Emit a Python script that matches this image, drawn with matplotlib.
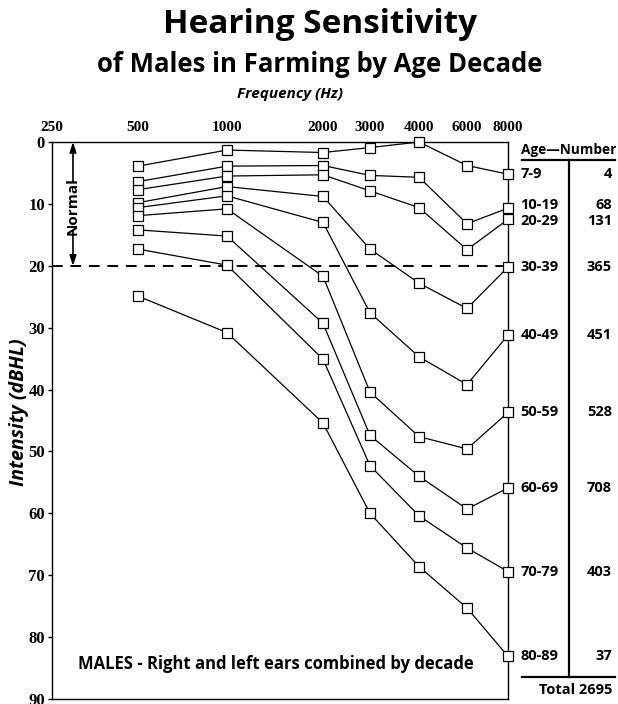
import numpy as np
import matplotlib
matplotlib.use('Agg')
import matplotlib.pyplot as plt
from matplotlib.lines import Line2D
import matplotlib.transforms as mtransforms

# ------------------------------------------------------------
# data (dB HL thresholds)
# ------------------------------------------------------------
freqs = [500, 1000, 2000, 3000, 4000, 6000, 8000]
freq_ticks = [250, 500, 1000, 2000, 3000, 4000, 6000, 8000]

age_groups = ['7-9', '10-19', '20-29', '30-39', '40-49',
              '50-59', '60-69', '70-79', '80-89']
counts = [4, 68, 131, 365, 451, 528, 708, 403, 37]
total_count = 2695

age_7_9 = [3.9, 1.3, 1.7, 0.9, 0.0, 3.8, 5.2]
age_10_19 = [6.4, 3.9, 3.8, 5.4, 5.7, 13.2, 10.7]
age_20_29 = [7.7, 5.5, 5.3, 7.9, 10.6, 17.4, 12.5]
age_30_39 = [9.8, 7.2, 8.8, 17.3, 22.8, 26.9, 20.2]
age_40_49 = [10.6, 8.7, 13.0, 27.6, 34.7, 39.2, 31.2]
age_50_59 = [11.9, 10.8, 21.7, 40.4, 47.6, 49.6, 43.7]
age_60_69 = [14.2, 15.2, 29.3, 47.4, 54.0, 59.3, 55.9]
age_70_79 = [17.3, 19.9, 35.1, 52.3, 60.4, 65.6, 69.4]
age_80_89 = [24.9, 30.8, 45.4, 60.0, 68.6, 75.3, 83.1]
series = [age_7_9, age_10_19, age_20_29, age_30_39, age_40_49,
          age_50_59, age_60_69, age_70_79, age_80_89]

normal_limit = 20

# ------------------------------------------------------------
SANS = 'Open Sans'
SERIF = 'Liberation Serif'
W, H = 618, 704

fig = plt.figure(figsize=(W / 100, H / 100), dpi=100)
ax = fig.add_axes([52 / W, 5 / H, 456 / W, 557 / H])

# audiogram-style frequency spacing (half octaves at 3k / 6k)
tick_slots = [0, 86, 175, 271, 318, 367, 415, 456]


def fwd(f):
    return np.interp(f, freq_ticks, tick_slots)


def inv(s):
    return np.interp(s, tick_slots, freq_ticks)


ax.set_xscale('function', functions=(fwd, inv))
ax.set_xlim(250, 8000)
ax.set_ylim(90, 0)

for vals in series:
    ax.plot(freqs, vals, color='black', lw=0.9, marker='s', ms=7.5,
            mfc='white', mec='black', mew=0.9, zorder=3, clip_on=False)

ax.axhline(normal_limit, color='black', lw=1.4, dashes=(5.5, 4), zorder=2)

# x ticks on top
ax.xaxis.tick_top()
ax.set_xticks(freq_ticks)
ax.set_xticklabels([str(f) for f in freq_ticks])
ax.xaxis.set_minor_locator(matplotlib.ticker.NullLocator())
ax.tick_params(axis='x', length=0, pad=6)
ax.set_yticks(np.arange(0, 91, 10))
ax.tick_params(axis='y', direction='out', length=3, width=1, pad=2)
for lab in ax.get_xticklabels():
    lab.set_fontfamily(SERIF)
    lab.set_fontweight('bold')
    lab.set_fontsize(11)
for lab in ax.get_yticklabels():
    lab.set_fontfamily(SERIF)
    lab.set_fontweight('bold')
    lab.set_fontsize(12)
for sp in ax.spines.values():
    sp.set_linewidth(1)

# "Normal" range marker
trans = mtransforms.blended_transform_factory(ax.transAxes, ax.transData)
xn = 0.046
ax.annotate('', xy=(xn, 0), xytext=(xn, 6.4), xycoords=trans,
            arrowprops=dict(arrowstyle='-|>,head_width=0.2,head_length=0.6',
                            color='black', lw=1.2, shrinkA=0, shrinkB=0))
ax.annotate('', xy=(xn, normal_limit), xytext=(xn, 14.4), xycoords=trans,
            arrowprops=dict(arrowstyle='-|>,head_width=0.2,head_length=0.6',
                            color='black', lw=1.2, shrinkA=0, shrinkB=0))
ax.text(xn, 10.4, 'Normal', transform=trans, rotation=90, ha='center',
        va='center', fontfamily=SANS, fontweight='bold', fontsize=11)

ax.text(0.49, 84.3, 'MALES - Right and left ears combined by decade',
        transform=trans, ha='center', va='center', fontfamily=SANS,
        fontweight='bold', fontsize=12)

# age / number labels at the right (small nudges where two groups crowd)
nudge = {'10-19': -0.6, '20-29': 0.3}
for grp, n, vals in zip(age_groups, counts, series):
    y_lab = vals[-1] + nudge.get(grp, 0)
    ax.annotate(grp, xy=(8000, y_lab), xytext=(9, 0),
                textcoords='offset points', ha='left', va='center',
                fontfamily=SANS, fontweight='bold', fontsize=10.5,
                annotation_clip=False)
    y_fig = fig.transFigure.inverted().transform(
        ax.transData.transform((8000, y_lab)))[1]
    fig.text(612 / W, y_fig, str(n), ha='right', va='center',
             fontfamily=SANS, fontweight='bold', fontsize=10.5)

fig.text(521 / W, 1 - 154 / H, 'Age\u2014Number', ha='left', va='baseline',
         fontfamily=SANS, fontweight='bold', fontsize=9.8)
fig.text(612 / W, 1 - 694 / H, 'Total ' + str(total_count), ha='right',
         va='baseline', fontfamily=SANS, fontweight='bold', fontsize=10.5)
fig.add_artist(Line2D([522 / W, 615 / W], [1 - 160 / H, 1 - 160 / H],
                      transform=fig.transFigure, color='black', lw=1.6))
fig.add_artist(Line2D([522 / W, 615 / W], [1 - 677 / H, 1 - 677 / H],
                      transform=fig.transFigure, color='black', lw=1.6))
fig.add_artist(Line2D([569 / W, 569 / W], [1 - 160 / H, 1 - 677 / H],
                      transform=fig.transFigure, color='black', lw=1.6))

# titles
fig.text(320 / W, 1 - 33 / H, 'Hearing Sensitivity', ha='center',
         va='baseline', fontfamily=SANS, fontweight='bold', fontsize=24)
fig.text(320 / W, 1 - 72 / H, 'of Males in Farming by Age Decade',
         ha='center', va='baseline', fontfamily=SANS, fontweight='bold',
         fontsize=18.5)
fig.text(290 / W, 1 - 98 / H, 'Frequency (Hz)', ha='center', va='baseline',
         fontfamily=SANS, fontweight='bold', fontstyle='italic', fontsize=11)
fig.text(19 / W, 1 - 412 / H, 'Intensity (dBHL)', ha='center', va='center',
         rotation=90, fontfamily=SANS, fontweight='bold', fontstyle='italic',
         fontsize=14)

fig.savefig('out.png', dpi=100, facecolor='white')
